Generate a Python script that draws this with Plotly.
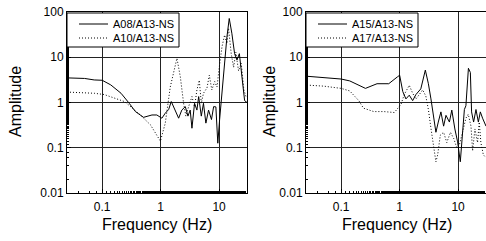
import plotly.graph_objects as go

# ---------------- data ----------------
freq_a08 = [0.025, 0.05, 0.073, 0.1, 0.14, 0.21, 0.29, 0.37, 0.51, 0.71, 0.86, 1.05, 1.2, 1.37, 1.52,
            1.78, 2.03, 2.3, 2.64, 2.93, 3.2, 3.43, 3.8, 4.17, 4.47, 4.96, 5.4, 5.94, 6.6, 7.4,
            8.06, 8.8, 9.5, 10.2, 11.2, 12.4, 13.6, 14.9, 16.5, 18.4, 20.2, 22.2, 24.5, 27.3, 30]
amp_a08 = [3.5, 3.4, 3.15, 3.1, 2.45, 1.6, 0.96, 0.63, 0.47, 0.53, 0.53, 0.45, 0.58, 0.7, 1.05,
           0.68, 0.45, 0.68, 0.81, 0.5, 0.68, 0.27, 0.96, 0.68, 1.35, 0.5, 0.96, 0.35, 0.68, 0.42,
           0.81, 0.8, 0.126, 0.42, 1.9, 6.2, 28, 72, 34, 12, 8.7, 12, 3.7, 1.1, 1.0]

freq_a10 = [0.025, 0.05, 0.073, 0.108, 0.16, 0.24, 0.31, 0.45, 0.67, 0.81, 0.99, 1.2, 1.46, 1.9,
            2.17, 2.47, 2.7, 3.0, 3.43, 3.8, 4.17, 4.58, 4.96, 5.4, 6.2, 6.8, 7.5, 8.4, 9.2, 10.0,
            11.2, 12.4, 13.6, 14.5, 16.1, 17.7, 19.3, 21.5, 23.9, 26.5, 28.8]
amp_a10 = [1.7, 1.65, 1.6, 1.5, 1.25, 1.05, 0.8, 0.53, 0.32, 0.21, 0.14, 0.35, 2.2, 9.5,
           3.7, 0.96, 0.5, 0.8, 1.35, 0.8, 1.9, 3.1, 0.96, 1.6, 2.1, 4.0, 1.9, 2.9, 2.2, 5.7,
           17, 31, 20, 44, 12, 6, 13, 5, 7.4, 1.9, 1.35]

freq_a15 = [0.023, 0.05, 0.1, 0.14, 0.26, 0.41, 0.65, 0.92, 1.0, 1.13, 1.28, 1.46, 1.67, 1.9, 2.3,
            2.75, 3.1, 3.43, 3.8, 4.17, 4.58, 5.08, 5.65, 6.2, 7.1, 7.8, 8.8, 9.8, 10.9, 11.9,
            12.8, 13.6, 15.0, 16.2, 17.0, 18.4, 20.2, 22.2, 24.0, 26.2, 30]
amp_a15 = [3.85, 3.6, 3.3, 3.0, 2.05, 2.6, 2.6, 3.7, 4.0, 1.75, 1.2, 1.45, 1.1, 1.5, 2.0,
           5.2, 2.6, 1.2, 0.52, 0.22, 0.37, 0.62, 0.3, 0.52, 0.37, 0.68, 0.26, 0.135, 0.049, 0.26,
           0.7, 0.85, 5.7, 4.6, 0.62, 0.37, 0.7, 0.37, 0.62, 0.45, 0.3]

freq_a17 = [0.023, 0.05, 0.1, 0.14, 0.2, 0.24, 0.36, 0.54, 0.81, 0.92, 1.05, 1.2, 1.46, 1.67, 1.9,
            2.17, 2.47, 2.8, 3.1, 3.43, 3.8, 4.17, 4.47, 4.96, 5.65, 6.4, 7.4, 8.4, 9.5, 10.4,
            11.9, 13.6, 14.9, 16.6, 17.7, 19.4, 21.5, 23.0, 24.5, 27.0, 30]
amp_a17 = [2.45, 2.3, 2.05, 1.8, 1.1, 0.75, 0.63, 0.63, 0.6, 0.75, 0.9, 1.5, 2.4, 1.6, 1.2,
           1.5, 1.9, 1.4, 0.7, 0.27, 0.115, 0.049, 0.07, 0.19, 0.22, 0.13, 0.22, 0.16, 0.1, 0.11,
           0.22, 0.45, 0.55, 0.3, 0.085, 0.26, 0.13, 0.37, 0.13, 0.07, 0.06]

names_left = ["A08/A13-NS", "A10/A13-NS"]
names_right = ["A15/A13-NS", "A17/A13-NS"]
x_title = "Frequency (Hz)"
y_title = "Amplitude"
x_tickvals = [0.1, 1, 10]
x_ticktext = ["0.1", "1", "10"]
y_tickvals = [0.01, 0.1, 1, 10, 100]
y_ticktext = ["0.01", "0.1", "1", "10", "100"]

# ---------------- figure ----------------
W, H = 486, 241
T, B = 12, 48
PH = H - T - B
FONT = "Liberation Sans, Arial, sans-serif"
DOT = "1px,2px"


def px(xp):
    return xp / W


def py(yp):
    return (H - B - yp) / PH


fig = go.Figure()
fig.add_trace(go.Scatter(x=freq_a08, y=amp_a08, mode="lines", name=names_left[0],
                         line=dict(color="black", width=1), xaxis="x", yaxis="y"))
fig.add_trace(go.Scatter(x=freq_a10, y=amp_a10, mode="lines", name=names_left[1],
                         line=dict(color="black", width=1, dash=DOT), xaxis="x", yaxis="y"))
fig.add_trace(go.Scatter(x=freq_a15, y=amp_a15, mode="lines", name=names_right[0],
                         line=dict(color="black", width=1), xaxis="x2", yaxis="y2"))
fig.add_trace(go.Scatter(x=freq_a17, y=amp_a17, mode="lines", name=names_right[1],
                         line=dict(color="black", width=1, dash=DOT), xaxis="x2", yaxis="y2"))

xr = [-1.602, 1.477]
yr = [-2, 2]


def xaxis(domain, anchor):
    return dict(domain=domain, anchor=anchor, type="log", range=xr,
                tickvals=x_tickvals, ticktext=x_ticktext,
                ticks="inside", ticklen=4, tickcolor="black",
                minor=dict(ticks="inside", ticklen=2, tickcolor="black", showgrid=False),
                showgrid=True, gridcolor="#222", gridwidth=1,
                showline=True, linecolor="black", linewidth=1, mirror=True,
                tickfont=dict(family=FONT, size=12, color="black"),
                ticklabelstandoff=3,
                automargin=False, zeroline=False)


def yaxis(anchor):
    return dict(domain=[0, 1], anchor=anchor, type="log", range=yr,
                tickvals=y_tickvals, ticktext=y_ticktext,
                ticks="inside", ticklen=4, tickcolor="black",
                minor=dict(ticks="inside", ticklen=2, tickcolor="black", showgrid=False),
                showgrid=True, gridcolor="#222", gridwidth=1,
                showline=True, linecolor="black", linewidth=1, mirror=True,
                tickfont=dict(family=FONT, size=12, color="black"),
                automargin=False, zeroline=False)


d1 = [67 / W, 247 / W]
d2 = [306 / W, 1.0]

shapes = []
annotations = []
# legends (drawn as a box with line samples and labels)
for x0, names in ((67, names_left), (306, names_right)):
    shapes.append(dict(type="rect", xref="paper", yref="paper",
                       x0=px(x0), x1=px(x0 + 112), y0=py(13), y1=py(47),
                       fillcolor="white", line=dict(color="black", width=1), layer="above"))
    for i, (nm, dash) in enumerate(zip(names, ["solid", DOT])):
        yy = 24 + 14 * i
        shapes.append(dict(type="line", xref="paper", yref="paper",
                           x0=px(x0 + 12), x1=px(x0 + 41), y0=py(yy), y1=py(yy),
                           line=dict(color="black", width=1, dash=dash), layer="above"))
        annotations.append(dict(text=nm, x=px(x0 + 44), y=py(yy), xref="paper", yref="paper",
                                xanchor="left", yanchor="middle", showarrow=False,
                                font=dict(family=FONT, size=11, color="black")))

for xc in (16, 270):
    annotations.append(dict(text=y_title, x=px(xc), y=py(102), xref="paper", yref="paper",
                            textangle=-90, xanchor="center", yanchor="middle", showarrow=False,
                            font=dict(family=FONT, size=16, color="black")))
for xc in (157, 397):
    annotations.append(dict(text=x_title, x=px(xc), y=py(224), xref="paper", yref="paper",
                            xanchor="center", yanchor="middle", showarrow=False,
                            font=dict(family=FONT, size=16, color="black")))

fig.update_layout(
    width=W, height=H,
    margin=dict(l=0, r=0, t=T, b=B),
    paper_bgcolor="white", plot_bgcolor="white",
    showlegend=False,
    xaxis=xaxis(d1, "y"),
    yaxis=yaxis("x"),
    xaxis2=xaxis(d2, "y2"),
    yaxis2=yaxis("x2"),
    shapes=shapes,
    annotations=annotations,
)

fig.write_html("out.html",
               config={"displayModeBar": False, "staticPlot": True},
               post_script="document.body.style.margin='0';document.body.style.padding='0';"
                           "document.body.style.overflow='hidden';")
